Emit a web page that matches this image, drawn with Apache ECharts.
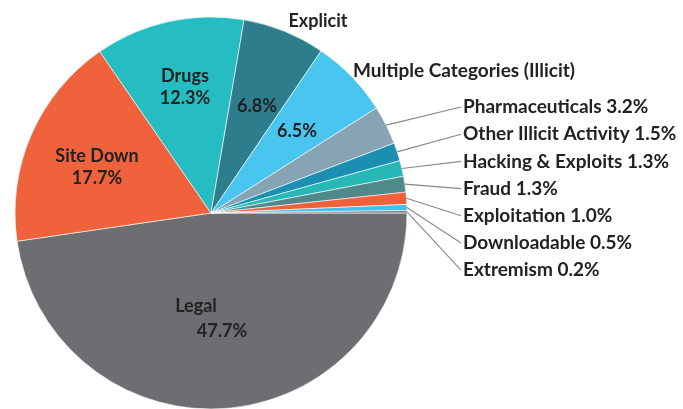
<!DOCTYPE html>
<html><head><meta charset="utf-8">
<script src="https://cdn.jsdelivr.net/npm/echarts@6/dist/echarts.min.js"></script>
<style>html,body{margin:0;padding:0;background:#fff}#c{width:683px;height:409px}</style>
</head><body><div id="c"></div>
<script>
const categories = ['Legal','Site Down','Drugs','Explicit','Multiple Categories (Illicit)','Pharmaceuticals','Other Illicit Activity','Hacking & Exploits','Fraud','Exploitation','Downloadable','Extremism'];
const values = [47.7,17.7,12.3,6.8,6.5,3.2,1.5,1.3,1.3,1.0,0.5,0.2];
const colors = ['#6d6e72','#ef623b','#25bdc1','#2e7d8d','#48c6ef','#86a4b3','#1b8fb2','#28b7b7','#50898b','#f0603a','#3fc1ee','#7c7d82'];

const FONT = 'Lato';
const FS = 18;
const FS_OUT = 19;
const TXT = '#222';
// label placement (inner labels / outer label anchors)
const innerPos = {
  'Legal':[209,319], 'Site Down':[97,167], 'Drugs':[185,87],
  'Explicit':[257,106], 'Multiple Categories (Illicit)':[297,131]
};
const namePos = {'Explicit':[318,21], 'Multiple Categories (Illicit)':[464,71]};
const outerNames = categories.slice(5);
const outerX = 463, outerY0 = 107, outerStep = 27.2;
const pct = v => v.toFixed(1) + '%';

const baseData = categories.map((n,i)=>({name:n, value:values[i], itemStyle:{color:colors[i]}}));

const innerData = baseData.map(d=>{
  const o = Object.assign({}, d);
  if (d.name==='Legal') {
    o.label = {show:true, formatter:'{a|Legal}\n{b|' + pct(d.value) + '}', rich:{
      a:{fontFamily:FONT,fontWeight:'bold',fontSize:FS,color:TXT,padding:[0,26,0,0],lineHeight:25},
      b:{fontFamily:FONT,fontWeight:'bold',fontSize:FS,color:TXT,padding:[0,0,0,26],lineHeight:25}}};
  } else if (d.name==='Site Down' || d.name==='Drugs') {
    o.label = {show:true, formatter:d.name + '\n' + pct(d.value)};
  } else if (d.name==='Explicit' || d.name.startsWith('Multiple')) {
    o.label = {show:true, formatter:pct(d.value)};
  } else {
    o.label = {show:false};
  }
  return o;
});

const outerData = baseData.map(d=>{
  const o = {name:d.name, value:d.value, itemStyle:{color:'rgba(0,0,0,0)', borderWidth:0}};
  if (namePos[d.name]) {
    o.label = {show:true, formatter:d.name, fontSize:(d.name==='Explicit'?FS:FS_OUT)}; o.labelLine = {show:false};
  } else if (outerNames.includes(d.name)) {
    o.label = {show:true, formatter:d.name + ' ' + pct(d.value)}; o.labelLine = {show:true};
  } else {
    o.label = {show:false}; o.labelLine = {show:false};
  }
  return o;
});

const chart = echarts.init(document.getElementById('c'));
chart.setOption({
  animation:false,
  series:[
    {
      type:'pie', center:[211,213], radius:[0,196], startAngle:0, clockwise:true,
      data: innerData, silent:true,
      itemStyle:{borderColor:'#fff', borderWidth:0.6},
      label:{position:'inside', fontFamily:FONT, fontWeight:'bold', fontSize:FS, color:TXT, lineHeight:22, align:'center'},
      labelLine:{show:false},
      labelLayout: function(p){
        const pos = innerPos[categories[p.dataIndex]];
        if (!pos) return {};
        return {x:pos[0], y:pos[1], align:'center', verticalAlign:'middle'};
      }
    },
    {
      type:'pie', center:[211,213], radius:[0,196], startAngle:0, clockwise:true,
      data: outerData, silent:true, z:3,
      label:{position:'outside', fontFamily:FONT, fontWeight:'bold', fontSize:FS_OUT, color:TXT},
      labelLine:{show:true, length:10, length2:10, lineStyle:{color:'#888', width:1.1}},
      labelLayout: function(p){
        const name = categories[p.dataIndex];
        if (namePos[name]) {
          const q = namePos[name];
          return {x:q[0], y:q[1], align:'center', verticalAlign:'middle'};
        }
        const k = outerNames.indexOf(name);
        if (k < 0) return {};
        const y = outerY0 + k*outerStep;
        const pts = p.labelLinePoints;
        const res = {x:outerX, y:y, align:'left', verticalAlign:'middle'};
        if (pts) res.labelLinePoints = [pts[0], [outerX-2, y], [outerX-2, y]];
        return res;
      }
    }
  ]
});
</script></body></html>
